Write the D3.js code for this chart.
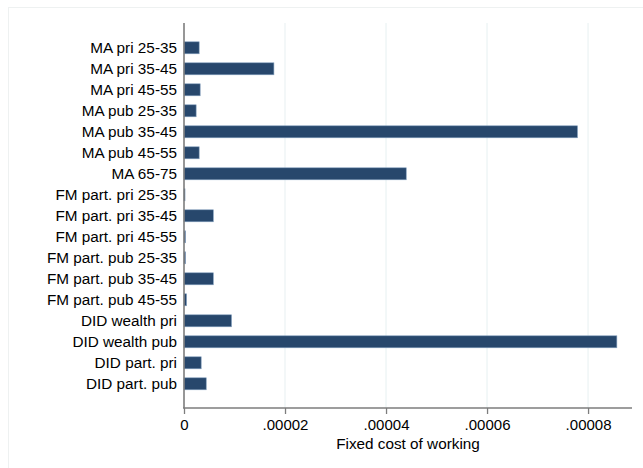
<!DOCTYPE html>
<html>
<head>
<meta charset="utf-8">
<script src="https://cdn.jsdelivr.net/npm/d3@7"></script>
<style>
  html, body { margin: 0; padding: 0; background: #fff; }
  svg { display: block; font-family: "Liberation Sans", Arial, Helvetica, sans-serif; }
</style>
</head>
<body>
<svg id="chart" width="643" height="468"></svg>
<script>
// Estimated fixed cost of working, by moment / group
const categories = [
  "MA pri 25-35", "MA pri 35-45", "MA pri 45-55",
  "MA pub 25-35", "MA pub 35-45", "MA pub 45-55",
  "MA 65-75",
  "FM part. pri 25-35", "FM part. pri 35-45", "FM part. pri 45-55",
  "FM part. pub 25-35", "FM part. pub 35-45", "FM part. pub 45-55",
  "DID wealth pri", "DID wealth pub", "DID part. pri", "DID part. pub"
];
const values = [
  3.0e-6, 1.78e-5, 3.2e-6,
  2.4e-6, 7.79e-5, 3.0e-6,
  4.40e-5,
  0.2e-6, 5.8e-6, 0.3e-6,
  0.3e-6, 5.8e-6, 0.5e-6,
  9.4e-6, 8.57e-5, 3.4e-6, 4.4e-6
];
const xTicks = [0, 0.00002, 0.00004, 0.00006, 0.00008];
const xTickLabels = ["0", ".00002", ".00004", ".00006", ".00008"];
const xTitle = "Fixed cost of working";

const svg = d3.select("#chart");

// light outer frame
svg.append("rect")
  .attr("x", 8.5).attr("y", 7.5)
  .attr("width", 700).attr("height", 500)
  .attr("fill", "none")
  .attr("stroke", "#eef1f1")
  .attr("stroke-width", 1);

const plot = { left: 184, right: 632, top: 23, bottom: 408 };

const x = d3.scaleLinear()
  .domain([0, 8.87e-5])
  .range([plot.left, plot.right]);

const y = d3.scaleBand()
  .domain(categories)
  .range([plot.top + 14.3, plot.bottom - 13.7])
  .paddingInner(0.43)
  .paddingOuter(0.215);

// vertical grid lines
svg.append("g")
  .selectAll("line")
  .data(xTicks.filter(d => d > 0))
  .join("line")
  .attr("x1", d => x(d)).attr("x2", d => x(d))
  .attr("y1", plot.top).attr("y2", plot.bottom)
  .attr("stroke", "#eff5f6")
  .attr("stroke-width", 1.5);

// bars
svg.append("g")
  .selectAll("rect")
  .data(values)
  .join("rect")
  .attr("x", x(0))
  .attr("y", (d, i) => y(categories[i]))
  .attr("width", d => Math.max(0.8, x(d) - x(0)))
  .attr("height", y.bandwidth())
  .attr("fill", "#27476c")
  .attr("stroke", "#7f9cbb")
  .attr("stroke-width", 0.6);

// x axis
const xAxis = d3.axisBottom(x)
  .tickValues(xTicks)
  .tickFormat((d, i) => xTickLabels[i])
  .tickSize(6)
  .tickPadding(5);

const gx = svg.append("g")
  .attr("transform", `translate(0,${plot.bottom})`)
  .call(xAxis);
gx.select(".domain").remove();
gx.append("line")
  .attr("x1", plot.left - 1).attr("x2", plot.right)
  .attr("y1", 0).attr("y2", 0)
  .attr("stroke", "#7d7d7d").attr("stroke-width", 1.6);
gx.selectAll(".tick line").attr("stroke", "#7d7d7d").attr("stroke-width", 1.3);
gx.selectAll(".tick text")
  .attr("fill", "#000")
  .attr("font-size", 15);

// y axis
const yAxis = d3.axisLeft(y).tickSize(0).tickPadding(7);
const gy = svg.append("g")
  .attr("transform", `translate(${plot.left},0)`)
  .call(yAxis);
gy.select(".domain").remove();
gy.append("line")
  .attr("x1", 0).attr("x2", 0)
  .attr("y1", plot.top).attr("y2", plot.bottom)
  .attr("stroke", "#7d7d7d").attr("stroke-width", 1.6);
gy.selectAll(".tick text")
  .attr("fill", "#000")
  .attr("font-size", 15.3);

// axis title
svg.append("text")
  .attr("x", (plot.left + plot.right) / 2)
  .attr("y", 449)
  .attr("text-anchor", "middle")
  .attr("font-size", 15.3)
  .attr("fill", "#000")
  .text(xTitle);
</script>
</body>
</html>
